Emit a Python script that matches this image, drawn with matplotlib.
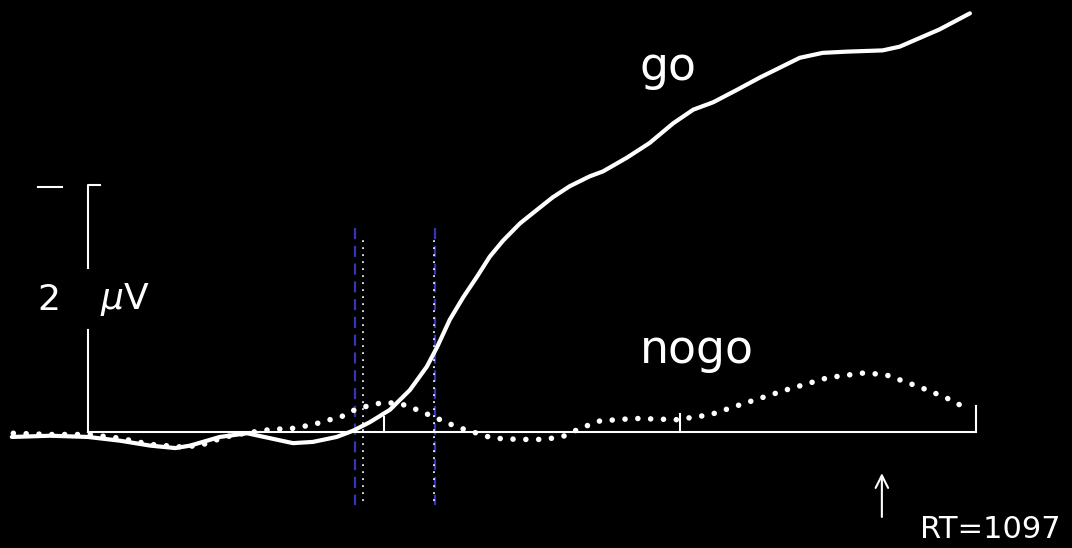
import matplotlib.pyplot as plt

# time in ms (stimulus onset = 0), amplitude in microvolts (negative up)
go_t = [-103, -51, 0, 43, 84, 118, 138, 178, 215, 246, 277, 304, 336, 358, 381,
        408, 435, 458, 472, 489, 507, 526, 543, 561, 584, 607, 628, 651, 678,
        696, 728, 759, 791, 818, 845, 877, 908, 935, 962, 993, 1026, 1074,
        1097, 1124, 1151, 1192]
go_uv = [0.04, 0.03, 0.04, 0.07, 0.11, 0.13, 0.11, 0.04, 0.01, 0.05, 0.09, 0.08,
         0.04, -0.01, -0.08, -0.18, -0.34, -0.53, -0.69, -0.91, -1.09, -1.26,
         -1.42, -1.55, -1.69, -1.80, -1.90, -1.99, -2.07, -2.11, -2.22, -2.34,
         -2.50, -2.61, -2.67, -2.77, -2.87, -2.95, -3.03, -3.07, -3.08, -3.09,
         -3.12, -3.19, -3.26, -3.39]

nogo_t = [-101, -51, 0, 43, 84, 124, 151, 185, 212, 246, 277, 304, 327, 341, 364,
          399, 422, 445, 472, 499, 526, 547, 584, 618, 645, 665, 692, 739, 796,
          841, 886, 943, 1000, 1051, 1080, 1126, 1159, 1188]
nogo_uv = [0.01, 0.02, 0.02, 0.05, 0.10, 0.12, 0.11, 0.04, 0.01, -0.02, -0.03,
           -0.06, -0.10, -0.12, -0.19, -0.24, -0.23, -0.18, -0.11, -0.04, 0.01,
           0.05, 0.06, 0.06, 0.03, -0.03, -0.09, -0.11, -0.10, -0.14, -0.23,
           -0.34, -0.44, -0.48, -0.46, -0.36, -0.28, -0.19]

tick_t = [400, 800, 1200]
tick_len = [-0.12, -0.15, -0.21]
onset_blue = [361, 469]
onset_white = [372, 468]
rt_label = "RT=1097"
rt_arrow_t = 1073

fig = plt.figure(figsize=(10.72, 5.48), dpi=100, facecolor='black')
ax = fig.add_axes([0, 0, 1, 1])
ax.set_facecolor('black')
ax.set_xlim(-119, 1330)
ax.set_ylim(0.939, -3.498)
ax.axis('off')

# onset markers
for t in onset_blue:
    ax.plot([t, t], [-1.65, 0.59], color='#3535b5', lw=1.6, linestyle=(0, (5, 3)))
for t in onset_white:
    ax.plot([t, t], [-1.55, 0.59], color='white', lw=1.4, linestyle=(0, (0.1, 3.5)),
            dash_capstyle='round')

# time axis with ticks
ax.plot([0, 1199], [0, 0], color='white', lw=1.5)
for t, h in zip(tick_t, tick_len):
    ax.plot([t, t], [0, h], color='white', lw=1.5)

# scale bar
ax.plot([0, 0], [0, -0.83], color='white', lw=1.5)
ax.plot([0, 0, 16], [-1.33, -2.0, -2.0], color='white', lw=1.5)
ax.plot([-68, -35], [-1.98, -1.98], color='white', lw=1.5)
ax.text(-53, -1.07, "2", color='white', fontsize=26, ha='center', va='center')
ax.text(50, -1.07, r"$\mu$V", color='white', fontsize=26, ha='center', va='center')

# waveforms
ax.plot(go_t, go_uv, color='white', lw=3, solid_capstyle='round', solid_joinstyle='round')
ax.plot(nogo_t, nogo_uv, color='white', lw=4, linestyle=(0, (0.01, 2.3)),
        dash_capstyle='round')

ax.text(784, -2.95, "go", color='white', fontsize=33, ha='center', va='center')
ax.text(823, -0.66, "nogo", color='white', fontsize=33, ha='center', va='center')

# reaction time marker
ax.annotate("", xy=(rt_arrow_t, 0.31), xytext=(rt_arrow_t, 0.71),
            arrowprops=dict(arrowstyle='->,head_length=0.9,head_width=0.45',
                            color='white', lw=1.5))
ax.text(1124, 0.79, rt_label, color='white', fontsize=22, ha='left', va='center')

plt.savefig('out.png', dpi=100, facecolor='black')
